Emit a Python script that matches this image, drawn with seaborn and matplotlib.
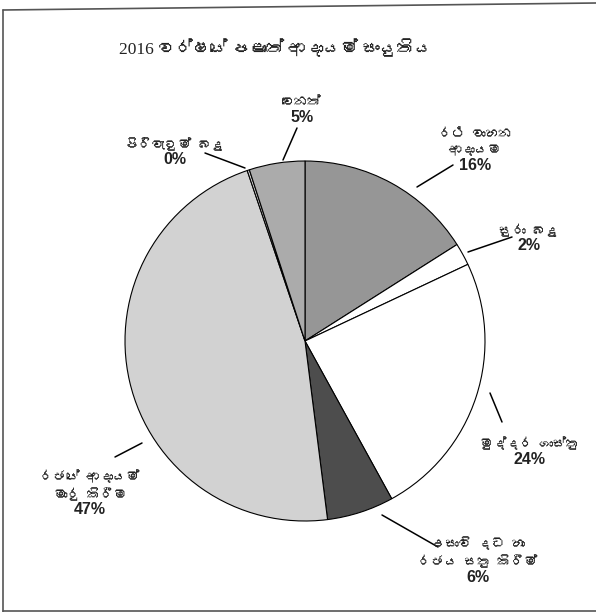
import matplotlib
matplotlib.use("Agg")
import matplotlib.pyplot as plt
from matplotlib import font_manager
from matplotlib.lines import Line2D
import seaborn as sns

# Data
title = "2016 වර්ෂයේ පළාත් ආදායම් සංයුතිය"
categories = [
    "රථ වාහන\nආදායම",
    "සුරා බදු",
    "මුද්දර ගාස්තු",
    "උසාවි දඩ හා\nරජය සතු කිරීම්",
    "රජයේ ආදායම්\nමාරු කිරීම",
    "පිරිවැටුම් බදු",
    "වෙනත්",
]
shares = [16, 2, 24, 6, 46.8, 0.2, 5]

# Layout / style (pixel positions)
wedge_colors = ["#969696", "#ffffff", "#ffffff", "#4d4d4d", "#d2d2d2", "#dedede", "#ababab"]
pct_pos = [(475, 165), (529, 246), (530, 459), (478, 577), (90, 510), (175, 160), (302, 117)]
leader_start = [(417, 187), (468, 252), (490, 393), (382, 515), (142, 443), (245, 168), (283, 160)]
leader_end = [(453, 165), (512, 237), (502, 422), (438, 547), (115, 457), (205, 153), (297, 128)]
CX, CY, R = 305, 341, 180
W, H = 596, 612


def to_data(p):
    return ((p[0] - CX) / R, (CY - p[1]) / R)


def sinhala_family():
    try:
        from fontTools.ttLib import TTFont
    except ImportError:
        return None
    for f in font_manager.fontManager.ttflist:
        if not f.fname.lower().endswith((".ttf", ".otf")):
            continue
        try:
            cmap = TTFont(f.fname, lazy=True).getBestCmap()
        except Exception:
            continue
        if cmap and 0x0DBB in cmap:
            return f.name
    return None


sns.set_theme(style="white")
sin_font = sinhala_family()
sans = ([sin_font] if sin_font else []) + ["DejaVu Sans"]
serif = ["Liberation Serif"] + ([sin_font] if sin_font else []) + ["DejaVu Sans"]
plt.rcParams["font.family"] = sans

fig = plt.figure(figsize=(W / 100, H / 100), dpi=100)
ax = fig.add_axes([0, 0, 1, 1])

ax.pie(shares, colors=wedge_colors, startangle=90, counterclock=False, radius=1,
       wedgeprops=dict(edgecolor="black", linewidth=0.8))
ax.set_xlim(-CX / R, (W - CX) / R)
ax.set_ylim((CY - H) / R, CY / R)
ax.set_aspect("auto")
ax.axis("off")

for name, v, pp, s, e in zip(categories, shares, pct_pos, leader_start, leader_end):
    x, y = to_data(pp)
    ax.text(x, y, f"{round(v)}%", ha="center", va="center", fontsize=11.5,
            fontweight="bold", family=["Liberation Sans", "DejaVu Sans"], color="#222222")
    ax.text(x, y + 9 / R, name, ha="center", va="bottom", fontsize=9.5,
            family=sans, linespacing=1.4, color="#222222")
    (x0, y0), (x1, y1) = to_data(s), to_data(e)
    ax.plot([x0, x1], [y0, y1], color="black", linewidth=1.1)

fig.text(275 / W, 1 - 49 / H, title, ha="center", va="center", fontsize=12.5,
         family=serif, color="#222222")

# scanned frame around the chart
frame = dict(color="#555555", linewidth=1.2)
fig.add_artist(Line2D([3 / W, 3 / W], [0, 1 - 10 / H], **frame))
fig.add_artist(Line2D([3 / W, 1], [1 - 10 / H, 1 - 3 / H], **frame))
fig.add_artist(Line2D([3 / W, 1], [1 / H, 1 / H], **frame))

fig.savefig("out.png", dpi=100)
